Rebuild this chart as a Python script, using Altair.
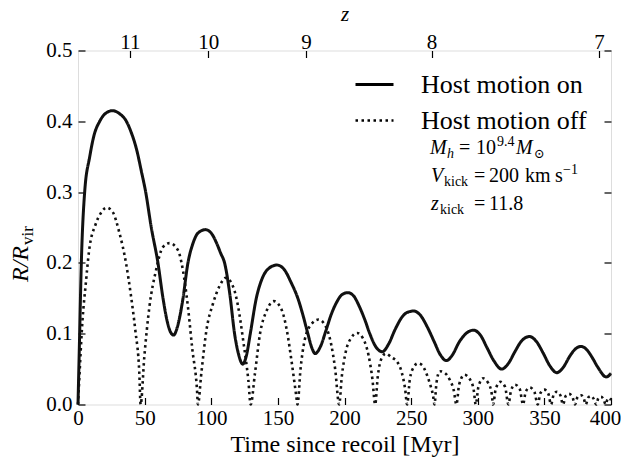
import altair as alt
import pandas as pd

# ---- data ----
solid_t = [0, 1, 2.5, 5, 8.8, 12, 16.3, 20, 25.8, 31, 36.3, 40, 44, 47.5, 50.8, 55, 60, 63.8, 67, 69.5,
           71.8, 74, 76.5, 78.8, 82.5, 86, 90, 95.6, 100, 104, 107, 110, 114, 117.5, 120.5, 123.6, 126.5,
           129.3, 133.8, 138, 143, 149.3, 155, 160, 165, 169, 172.5, 175.5, 178, 182, 186, 190, 194, 198,
           202.5, 207, 211, 215, 219, 223, 228.4, 233, 238, 243, 247, 252, 257, 262, 267, 272, 276.4, 281,
           286, 291, 296.8, 302, 307, 312, 318, 323, 328, 333, 338.9, 344, 349, 354, 359.3, 364, 369, 373,
           377.6, 382, 386, 390, 396.4, 400]
solid_r = [0, 0.08, 0.2, 0.3, 0.35, 0.38, 0.4, 0.41, 0.415, 0.411, 0.4, 0.384, 0.36, 0.33, 0.3, 0.25, 0.2,
           0.15, 0.117, 0.102, 0.098, 0.106, 0.125, 0.15, 0.2, 0.226, 0.242, 0.247, 0.242, 0.228, 0.214, 0.2,
           0.155, 0.1, 0.071, 0.057, 0.07, 0.1, 0.15, 0.177, 0.192, 0.197, 0.19, 0.172, 0.15, 0.125, 0.1,
           0.08, 0.072, 0.082, 0.104, 0.127, 0.144, 0.155, 0.158, 0.153, 0.139, 0.121, 0.1, 0.083, 0.0746,
           0.085, 0.106, 0.123, 0.13, 0.132, 0.126, 0.11, 0.09, 0.07, 0.062, 0.07, 0.088, 0.1, 0.105, 0.098,
           0.08, 0.062, 0.05, 0.058, 0.075, 0.09, 0.096, 0.089, 0.073, 0.055, 0.045, 0.052, 0.068, 0.078,
           0.082, 0.077, 0.066, 0.053, 0.039, 0.044]

dotted_t = [0, 0.8, 3.3, 5.8, 8.3, 13.3, 17, 21.6, 26, 31, 36, 39.8, 43, 46, 47,
            49.8, 53.6, 58.6, 63.6, 68.7, 75, 78.7, 82.5, 85.8, 89.3, 90,
            92.6, 96.4, 101.4, 106.4, 111, 116.5, 120.2, 124, 127.8, 129.6,
            132.8, 136.6, 141.7, 147, 153, 156.8, 160.5, 163.8, 164.7,
            167, 170, 175, 180.5, 186, 190, 193, 196,
            198, 201, 205, 209.5, 214, 218, 221, 223,
            225, 228, 231, 235, 240, 243, 245.5, 247,
            249, 252, 255, 258, 261, 264, 266.5, 267.5,
            269, 271.5, 275, 279, 282, 284,
            286, 290, 294, 297, 298.5,
            300.5, 304, 308, 310.5, 311.5,
            313.5, 317, 320.5, 323,
            325, 328, 331.5, 334,
            336, 339, 342.5, 345,
            347, 350, 353, 355,
            357, 359.5, 362, 364,
            366, 368.5, 371, 373,
            375, 377.5, 379.5, 381,
            383, 385, 387, 389,
            390.5, 392.5, 394.5, 396,
            397.5, 399, 400]
dotted_r = [0, 0.03, 0.117, 0.17, 0.217, 0.255, 0.27, 0.278, 0.272, 0.243, 0.2, 0.153, 0.105, 0.045, 0,
            0.068, 0.138, 0.19, 0.222, 0.228, 0.218, 0.19, 0.138, 0.078, 0.021, 0,
            0.045, 0.105, 0.143, 0.168, 0.179, 0.166, 0.138, 0.09, 0.035, 0,
            0.044, 0.1, 0.133, 0.146, 0.133, 0.104, 0.058, 0.012, 0,
            0.05, 0.09, 0.113, 0.12, 0.11, 0.085, 0.05, 0,
            0.04, 0.075, 0.094, 0.101, 0.093, 0.07, 0.035, 0,
            0.04, 0.066, 0.072, 0.067, 0.059, 0.045, 0.022, 0,
            0.035, 0.053, 0.058, 0.056, 0.046, 0.03, 0.012, 0,
            0.03, 0.047, 0.045, 0.035, 0.02, 0,
            0.028, 0.042, 0.036, 0.02, 0,
            0.025, 0.037, 0.03, 0.015, 0,
            0.022, 0.032, 0.025, 0,
            0.02, 0.028, 0.022, 0,
            0.018, 0.024, 0.018, 0,
            0.016, 0.021, 0.015, 0,
            0.014, 0.018, 0.013, 0,
            0.012, 0.015, 0.011, 0,
            0.011, 0.013, 0.009, 0,
            0.01, 0.012, 0.008, 0,
            0.009, 0.011, 0.007, 0,
            0.008, 0.009, 0.006]

series_names = ["Host motion on", "Host motion off"]
x_ticks = [0, 50, 100, 150, 200, 250, 300, 350, 400]
y_ticks = [0.0, 0.1, 0.2, 0.3, 0.4, 0.5]
z_tick_times = [38.9, 97.7, 171.2, 265.3, 391.0]
z_tick_labels = ["11", "10", "9", "8", "7"]

df = pd.concat([
    pd.DataFrame({"t": solid_t, "r": solid_r, "series": series_names[0]}),
    pd.DataFrame({"t": dotted_t, "r": dotted_r, "series": series_names[1]}),
], ignore_index=True)

FONT = "Liberation Serif"
PLOT_L, PLOT_T = 78, 50.5
W, H = 533, 354

xscale = alt.Scale(domain=[0, 400], nice=False, zero=False)
yscale = alt.Scale(domain=[0, 0.5], nice=False, zero=False)

common_axis = dict(domain=False, grid=False, tickSize=7, offset=-7, tickWidth=1.2,
                   tickColor="black", labelColor="black", labelFont=FONT, labelFontSize=21,
                   titleFont=FONT, titleColor="black", titleFontWeight="normal", labelFlush=False)

bottom_axis = alt.Axis(orient="bottom", values=x_ticks, format="d", title="Time since recoil [Myr]",
                       titleFontSize=24, titleBaseline="alphabetic", titleY=54,
                       labelBaseline="alphabetic", labelPadding=20,
                       labelOffset={"condition": {"test": "datum.value >= 400", "value": -6}, "value": 0},
                       **common_axis)
left_axis = alt.Axis(orient="left", values=y_ticks, format=".1f", title=None, labelPadding=6,
                     **common_axis)

expr = "'" + z_tick_labels[-1] + "'"
for i in range(len(z_tick_times) - 2, -1, -1):
    mid = (z_tick_times[i] + z_tick_times[i + 1]) / 2
    expr = f"datum.value < {mid} ? '{z_tick_labels[i]}' : ({expr})"

top_axis = alt.Axis(orient="top", values=z_tick_times, labelExpr=expr, title="z",
                    titleFontStyle="italic", titleFontSize=21, titleBaseline="alphabetic", titleY=-37,
                    labelBaseline="alphabetic", labelPadding=2.5, **common_axis)
right_axis = alt.Axis(orient="right", values=y_ticks, labels=False, title=None, **common_axis)

lines = alt.Chart(df).mark_line(color="#111111", interpolate="monotone", strokeCap="butt").encode(
    x=alt.X("t:Q", scale=xscale, axis=bottom_axis),
    y=alt.Y("r:Q", scale=yscale, axis=left_axis),
    strokeDash=alt.StrokeDash(
        "series:N",
        scale=alt.Scale(domain=series_names, range=[[1, 0], [2.5, 3.5]]),
        legend=alt.Legend(title=None, orient="none", legendX=276, legendY=13.5, symbolType="stroke",
                          symbolSize=1444, symbolStrokeWidth=3, symbolStrokeColor="black",
                          labelFont=FONT, labelFontSize=26, labelColor="black", labelOffset=26,
                          labelLimit=400, rowPadding=2, padding=0),
    ),
    strokeWidth=alt.StrokeWidth("series:N", scale=alt.Scale(domain=series_names, range=[3, 2.6]),
                                legend=None),
)

frame_axes = alt.Chart(df).mark_line(opacity=0).encode(
    x=alt.X("t:Q", scale=xscale, axis=top_axis),
    y=alt.Y("r:Q", scale=yscale, axis=right_axis),
)

dummy = pd.DataFrame({"a": [0]})


def piece(text, x_abs, y_abs, size, italic=False, angle=None, font=FONT):
    kw = dict(text=text, font=font, fontSize=size, fontStyle="italic" if italic else "normal",
              align="left", baseline="alphabetic", color="black")
    if angle is not None:
        kw["angle"] = angle
    return alt.Chart(dummy).mark_text(**kw).encode(
        x=alt.value(x_abs - PLOT_L), y=alt.value(y_abs - PLOT_T))


texts = [
    # y-axis title R/R_vir
    piece("R/R", 28, 282, 24, italic=True, angle=270),
    piece("vir", 33, 245, 17, angle=270),
    # M_h = 10^9.4 M_sun
    piece("M", 430, 154, 20, italic=True),
    piece("h", 447, 158, 14, italic=True),
    piece("=", 459, 154, 20),
    piece("10", 476, 154, 20),
    piece("9.4", 497, 146, 14),
    piece("M", 516, 154, 20, italic=True),
    piece("⊙", 534, 158, 13, font="DejaVu Serif"),
    # V_kick = 200 km s^-1
    piece("V", 431, 182, 20, italic=True),
    piece("kick", 444, 186, 14),
    piece("=", 474, 182, 20),
    piece("200", 489, 182, 20),
    piece("km", 525, 182, 20),
    piece("s", 555, 182, 20),
    piece("−1", 563, 174, 14),
    # z_kick = 11.8
    piece("z", 431, 210, 20, italic=True),
    piece("kick", 440, 214, 14),
    piece("=", 474, 210, 20),
    piece("11.8", 489, 210, 20),
]

chart = alt.layer(lines, frame_axes, *texts).resolve_axis(x="independent", y="independent").properties(
    width=W, height=H,
    padding={"left": PLOT_L - 8, "top": PLOT_T - 8, "right": 10, "bottom": 55},
    autosize=alt.AutoSizeParams(type="none"),
).configure_view(stroke="black", strokeWidth=1.3).configure(background="white")

chart.save("out.html", embed_options={"renderer": "svg", "actions": False})
